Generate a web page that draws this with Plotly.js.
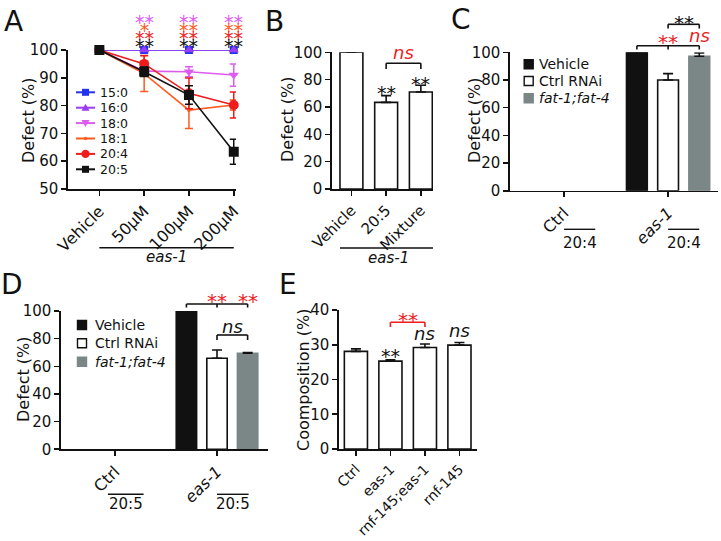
<!DOCTYPE html>
<html><head><meta charset="utf-8">
<script src="https://cdn.plot.ly/plotly-3.0.1.min.js"></script>
<style>html,body{margin:0;padding:0;background:#fff}#chart{width:721px;height:541px}</style>
</head><body><div id="chart"></div>
<script>
// ================= DATA =================
// Panel A: defect (%) vs fatty acid concentration in eas-1
const concLabels = ['Vehicle', '50µM', '100µM', '200µM'];
const faNames = ['15:0', '16:0', '18:0', '18:1', '20:4', '20:5'];
const a150 = [100, 100, 100, 100];
const a160 = [100, 100, 100, 100];
const a180 = [100, 92.4, 92.2, 91.0];
const a180Err = [0, 1.0, 1.8, 4.0];
const a181 = [100, 91.5, 78.4, 80.2];
const a181Err = [0, 6.4, 6.6, 1.8];
const a204 = [100, 95.0, 84.4, 80.2];
const a204Err = [0, 3.0, 5.5, 4.7];
const a205 = [100, 92.2, 83.8, 63.4];
const a205Err = [0, 1.7, 3.3, 4.5];
const a180Sig = ['', '**', '**', '**'];
const a181Sig = ['', '*', '**', '**'];
const a204Sig = ['', '**', '**', '**'];
const a205Sig = ['', '**', '**', '**'];
const aGroupLabel = 'eas-1';

// Panel B
const bLabels = ['Vehicle', '20:5', 'Mixture'];
const bValues = [100, 63.4, 71.0];
const bErr = [0, 4.9, 4.9];
const bSig = ['', '**', '**'];

// Panel C (20:4)
const groupLabels = ['Ctrl', 'eas-1'];
const groupTickText = ['Ctrl', '<i>eas-1</i>'];
const treatNames = ['Vehicle', 'Ctrl RNAi', '<i>fat-1;fat-4</i>'];
const cVehicle = [null, 100];
const cCtrlRNAi = [null, 80.0];
const cCtrlRNAiErr = [0, 4.6];
const cFat = [null, 97.1];
const cFatErr = [0, 2.4];
const cTreatLabel = '20:4';

// Panel D (20:5)
const dVehicle = [null, 100];
const dCtrlRNAi = [null, 65.8];
const dCtrlRNAiErr = [0, 6.0];
const dFat = [null, 69.4];
const dFatErr = [0, 0.6];
const dTreatLabel = '20:5';

// Panel E
const eLabels = ['Ctrl', 'eas-1', 'rnf-145;eas-1', 'rnf-145'];
const eValues = [28.1, 25.3, 29.2, 29.9];
const eErr = [0.7, 0.4, 1.0, 0.75];
const eSig = ['', '**', 'ns', 'ns'];

// ================= STYLE =================
const W = 721, H = 541;
const px = v => v / W;
const py = v => 1 - v / H;
const FONT = '"DejaVu Sans", sans-serif';
const INK = '#111111';
const RED = '#ee1c1c';
const GRAY = '#7b8787';
const faColors = ['#2233ee', '#9b3df2', '#dd5cf0', '#ff5a1f', '#ee1c1c', '#111111'];
const faSymbols = ['square', 'triangle-up', 'triangle-down', 'circle', 'circle', 'square'];
const faSizes = [8, 9, 9, 4, 10, 10];
const treatColors = [INK, '#ffffff', GRAY];
const treatLines = [INK, INK, GRAY];

const axCommon = {showline: true, linecolor: INK, linewidth: 1.6, ticks: 'outside', ticklen: 5,
  tickwidth: 1.6, tickcolor: INK, showgrid: false, zeroline: false, fixedrange: true,
  tickfont: {family: FONT, size: 15, color: INK}};
const ax = o => Object.assign({}, axCommon, o);
const xdom = (a, b) => [px(a), px(b)];
const ydom = (top, bottom) => [py(bottom), py(top)];

// ================= TRACES =================
const traces = [];
const aSeries = [a150, a160, a180, a181, a204, a205];
const aErrs = [null, null, a180Err, a181Err, a204Err, a205Err];
aSeries.forEach((vals, i) => {
  const t = {type: 'scatter', mode: 'lines+markers', x: concLabels, y: vals, name: faNames[i],
    xaxis: 'x', yaxis: 'y', cliponaxis: false, showlegend: false,
    line: {color: faColors[i], width: 1.6},
    marker: {symbol: faSymbols[i], size: faSizes[i], color: faColors[i], line: {width: 0}}};
  if (aErrs[i]) t.error_y = {type: 'data', array: aErrs[i], visible: true, color: faColors[i], thickness: 1.5, width: 4};
  traces.push(t);
});

traces.push({type: 'bar', x: bLabels, y: bValues, xaxis: 'x2', yaxis: 'y2', width: 0.66, cliponaxis: false,
  showlegend: false, marker: {color: '#ffffff', line: {color: INK, width: 1.6}},
  error_y: {type: 'data', symmetric: false, array: bErr, arrayminus: bErr.map(() => 0), color: INK, thickness: 1.6, width: 5}});

function groupBars(vals, errs, xa, ya) {
  const offs = [-0.4, -0.1, 0.2];
  vals.forEach((v, i) => {
    const t = {type: 'bar', x: groupLabels, y: v, name: treatNames[i], xaxis: xa, yaxis: ya,
      width: 0.2, offset: offs[i], cliponaxis: false, showlegend: false,
      marker: {color: treatColors[i], line: {color: treatLines[i], width: 1.6}}};
    if (errs[i]) t.error_y = {type: 'data', symmetric: false, array: errs[i], arrayminus: errs[i].map(() => 0), color: INK, thickness: 1.6, width: 5};
    traces.push(t);
  });
}
groupBars([cVehicle, cCtrlRNAi, cFat], [null, cCtrlRNAiErr, cFatErr], 'x3', 'y3');
groupBars([dVehicle, dCtrlRNAi, dFat], [null, dCtrlRNAiErr, dFatErr], 'x4', 'y4');

traces.push({type: 'bar', x: eLabels, y: eValues, xaxis: 'x5', yaxis: 'y5', width: 0.67, cliponaxis: false,
  showlegend: false, marker: {color: '#ffffff', line: {color: INK, width: 1.6}},
  error_y: {type: 'data', symmetric: false, array: eErr, arrayminus: eErr.map(() => 0), color: INK, thickness: 1.6, width: 5}});

// ================= DECORATIONS =================
const annotations = [];
const shapes = [];
function txt(x, y, text, o) {
  annotations.push(Object.assign({x: x, y: y, text: text, showarrow: false, xanchor: 'center', yanchor: 'middle',
    xref: 'paper', yref: 'paper', font: {family: FONT, size: 15, color: INK}}, o || {}));
}
function stars(xref, xv, cPx, s, color, size) {
  size = size || 20;
  if (!s) return;
  txt(xv, py(cPx + 0.25 * size), s, {xref: xref, font: {family: FONT, size: size, color: color}});
}
function ns(xref, xv, cPx, color, size) {
  size = size || 18;
  txt(xv, py(cPx - 0.07 * size), '<i>ns</i>', {xref: xref, font: {family: FONT, size: size, color: color}});
}
function hline(xref, x0, x1, yPx, color, w) {
  shapes.push({type: 'line', xref: xref, yref: 'paper', x0: x0, x1: x1, y0: py(yPx), y1: py(yPx), line: {color: color, width: w || 1.6}});
}
function vline(xref, x, y0Px, y1Px, color) {
  shapes.push({type: 'line', xref: xref, yref: 'paper', x0: x, x1: x, y0: py(y0Px), y1: py(y1Px), line: {color: color, width: 1.6}});
}
function bracket(xref, xs, top, bottom, color) {
  hline(xref, Math.min.apply(null, xs), Math.max.apply(null, xs), top, color);
  xs.forEach(x => vline(xref, x, top, bottom, color));
}
function ytitle(xPx, yPx, text) {
  txt(px(xPx), py(yPx), text, {textangle: -90, font: {family: FONT, size: 16, color: INK}});
}
function letter(xPx, yPx, text) {
  txt(px(xPx), py(yPx), text, {font: {family: FONT, size: 28, color: INK}});
}

// Panel A
letter(14, 22, 'A');
ytitle(28, 120, 'Defect (%)');
// stacked significance marks: one text per concentration, rows 8 px apart
const aSigRows = [[a180Sig, faColors[2]], [a181Sig, faColors[3]], [a204Sig, faColors[4]], [a205Sig, faColors[5]]];
concLabels.forEach((c, i) => {
  const lines = aSigRows.map(r => r[0][i] ? '<span style="color:' + r[1] + ';font-size:19px">' + r[0][i] + '</span>' : '');
  if (lines.every(l => !l)) return;
  txt(i, py(58.5), lines.join('<br>'), {xref: 'x', yanchor: 'bottom', font: {family: FONT, size: 6.25, color: INK}});
});
hline('x', 0, 3, 247.7, INK, 1.4);
txt(1.5, py(257.5), '<i>' + aGroupLabel + '</i>', {xref: 'x'});
// legend A
faNames.forEach((n, i) => {
  const yc = 92.3 + i * 15.4, xc = 85.5;
  shapes.push({type: 'line', xref: 'paper', yref: 'paper', x0: px(76), x1: px(95), y0: py(yc), y1: py(yc), line: {color: faColors[i], width: 2}});
  const base = {xref: 'paper', yref: 'paper', xsizemode: 'pixel', ysizemode: 'pixel', xanchor: px(xc), yanchor: py(yc), fillcolor: faColors[i], line: {width: 0}};
  const sym = faSymbols[i];
  if (sym === 'square') shapes.push(Object.assign({type: 'rect', x0: -3.5, x1: 3.5, y0: -3.5, y1: 3.5}, base));
  else if (sym === 'triangle-up') shapes.push(Object.assign({type: 'path', path: 'M-4,-3L4,-3L0,4Z'}, base));
  else if (sym === 'triangle-down') shapes.push(Object.assign({type: 'path', path: 'M-4,3L4,3L0,-4Z'}, base));
  else { const r = faSizes[i] / 2.4; shapes.push(Object.assign({type: 'circle', x0: -r, x1: r, y0: -r, y1: r}, base)); }
  txt(px(98), py(yc), n, {xanchor: 'left', font: {family: FONT, size: 12.5, color: INK}});
});

// Panel B
letter(274, 22, 'B');
ytitle(287, 120, 'Defect (%)');
bSig.forEach((s, i) => stars('x2', i, [0, 88, 79][i], s, INK, 19));
bracket('x2', [1, 2], 63.3, 69, INK);
ns('x2', 1.5, 54, RED, 18);
hline('x2', -0.33, 2.35, 248, INK, 1.4);
txt(1.06, py(258), '<i>' + aGroupLabel + '</i>', {xref: 'x2'});

// Legends C and D
function treatLegend(xc, xt, rows) {
  rows.forEach((yc, i) => {
    shapes.push({type: 'rect', xref: 'paper', yref: 'paper', xsizemode: 'pixel', ysizemode: 'pixel',
      xanchor: px(xc), yanchor: py(yc), x0: -4.5, x1: 4.5, y0: -4.5, y1: 4.5,
      fillcolor: treatColors[i], line: {color: treatLines[i], width: 1.4}});
    txt(px(xt), py(yc), treatNames[i], {xanchor: 'left', font: {family: FONT, size: 14, color: INK}});
  });
}

// Panel C
letter(461, 19, 'C');
ytitle(475, 121, 'Defect (%)');
treatLegend(528.7, 537, [64.3, 81, 98.3]);
bracket('x3', [0.7, 1.0, 1.3], 45.7, 49.5, INK);
stars('x3', 1.0, 36.7, '**', RED, 20);
ns('x3', 1.3, 36.7, RED, 18);
bracket('x3', [1.0, 1.3], 24.3, 28.5, INK);
stars('x3', 1.15, 17.7, '**', INK, 20);
hline('x3', 0, 0.3, 229.3, INK, 1.4);
hline('x3', 1, 1.3, 229.3, INK, 1.4);
txt(0.15, py(243), cTreatLabel, {xref: 'x3'});
txt(1.15, py(243), cTreatLabel, {xref: 'x3'});

// Panel D
letter(12, 284, 'D');
ytitle(23, 380, 'Defect (%)');
treatLegend(82, 92.7, [325, 343.3, 361.7]);
bracket('x4', [0.7, 1.0, 1.3], 304, 307.5, INK);
stars('x4', 1.0, 295.5, '**', RED, 20);
stars('x4', 1.3, 295.5, '**', RED, 20);
bracket('x4', [1.0, 1.3], 335, 340, INK);
ns('x4', 1.15, 328, INK, 18);
hline('x4', -0.07, 0.28, 494.3, INK, 1.4);
hline('x4', 1.0, 1.31, 494.3, INK, 1.4);
txt(0.105, py(504), dTreatLabel, {xref: 'x4'});
txt(1.155, py(504), dTreatLabel, {xref: 'x4'});

// Panel E
letter(288, 284, 'E');
ytitle(303, 380, 'Coomposition (%)');
eSig.forEach((s, i) => {
  if (s === 'ns') ns('x5', i, [0, 0, 335, 331.7][i], INK, 18);
  else stars('x5', i, 351.7, s, INK, 19);
});
bracket('x5', [1, 2], 322.3, 327, RED);
stars('x5', 1.5, 315, '**', RED, 20);

// ================= LAYOUT =================
const layout = {
  width: W, height: H, margin: {l: 0, r: 0, t: 0, b: 0}, paper_bgcolor: '#ffffff', plot_bgcolor: 'rgba(0,0,0,0)',
  showlegend: false, barmode: 'overlay', font: {family: FONT, color: INK},
  xaxis: ax({domain: xdom(68, 236), anchor: 'y', type: 'category', categoryorder: 'array', categoryarray: concLabels, range: [-0.7, 3.05], tickangle: -45, tickfont: {family: FONT, size: 16, color: INK}}),
  yaxis: ax({domain: ydom(50, 189), anchor: 'x', range: [50, 100], tick0: 50, dtick: 10}),
  xaxis2: ax({domain: xdom(332, 433), anchor: 'y2', type: 'category', categoryorder: 'array', categoryarray: bLabels, range: [-0.56, 2.35], tickangle: -45, tickfont: {family: FONT, size: 15, color: INK}}),
  yaxis2: ax({domain: ydom(52.3, 189), anchor: 'x2', range: [0, 100], dtick: 20}),
  xaxis3: ax({domain: xdom(510, 718), anchor: 'y3', type: 'category', categoryorder: 'array', categoryarray: groupLabels, range: [-0.52, 1.48], tickangle: -45, tickmode: 'array', tickvals: groupLabels, ticktext: groupTickText, tickfont: {family: FONT, size: 16, color: INK}}),
  yaxis3: ax({domain: ydom(52.3, 190.7), anchor: 'x3', range: [0, 100], dtick: 20}),
  xaxis4: ax({domain: xdom(61, 268), anchor: 'y4', type: 'category', categoryorder: 'array', categoryarray: groupLabels, range: [-0.53, 1.5], tickangle: -45, tickmode: 'array', tickvals: groupLabels, ticktext: groupTickText, tickfont: {family: FONT, size: 16, color: INK}}),
  yaxis4: ax({domain: ydom(311, 449.3), anchor: 'x4', range: [0, 100], dtick: 20}),
  xaxis5: ax({domain: xdom(339, 476.7), anchor: 'y5', type: 'category', categoryorder: 'array', categoryarray: eLabels, range: [-0.49, 3.5], tickangle: -45, tickfont: {family: FONT, size: 14, color: INK}}),
  yaxis5: ax({domain: ydom(310, 449), anchor: 'x5', range: [0, 40], dtick: 10}),
  annotations: annotations, shapes: shapes
};

Plotly.newPlot('chart', traces, layout, {staticPlot: true, displayModeBar: false});
</script>
</body></html>
